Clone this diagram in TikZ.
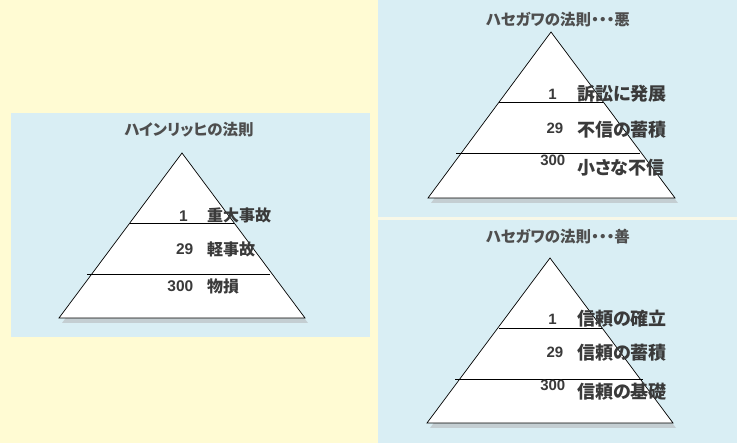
\documentclass[tikz,border=0pt]{standalone}
\usepackage{fontspec}
\usetikzlibrary{calc}
\newfontfamily\jp[RawFeature=+palt]{Noto Sans CJK JP}
\newfontfamily\numfont{Liberation Sans}
\definecolor{bgyellow}{HTML}{FFFBD3}
\definecolor{panelblue}{HTML}{D9EEF4}
\definecolor{divider}{HTML}{F8F8E8}
\definecolor{shadowgray}{HTML}{C4CED2}
\definecolor{txtgray}{HTML}{3A3A3A}
\begin{document}
\begin{tikzpicture}[x=1pt,y=-1pt,
  pyr/.style={fill=white,draw=black,line width=0.7pt,line join=miter},
  shade/.style={fill=shadowgray,draw=none},
  layer/.style={draw=black,line width=0.7pt},
  ttl/.style={font=\jp\bfseries\fontsize{15.5}{18}\selectfont,text=txtgray!90,inner sep=0pt},
  numS/.style={font=\numfont\bfseries\fontsize{15.5}{17}\selectfont,text=txtgray,inner sep=0pt,anchor=base east},
  numL/.style={font=\numfont\bfseries\fontsize{15}{16}\selectfont,text=txtgray,inner sep=0pt,anchor=base east},
  lblS/.style={font=\jp\bfseries\fontsize{16}{18}\selectfont,text=txtgray,inner sep=0pt,anchor=base west},
  lblL/.style={font=\jp\bfseries\fontsize{18}{20}\selectfont,text=txtgray,inner sep=0pt,anchor=base west}
]
\useasboundingbox (0,0) rectangle (737,443);
\fill[bgyellow] (0,0) rectangle (737,443);
\fill[panelblue] (11,113) rectangle (370,337);
\fill[panelblue] (378,0) rectangle (737,217);
\fill[divider] (378,217) rectangle (737,220);
\fill[panelblue] (378,220) rectangle (737,443);

% ---------- left: Heinrich ----------
\node[ttl] (tA) at (189,130) {ハインリッヒの法則};
\coordinate (a1) at (182,153);
\coordinate (a2) at (59,318);
\coordinate (a3) at (305,318);
\fill[shade] ($(a1)+(3,5)$) -- ($(a2)+(3,5)$) -- ($(a3)+(3,5)$) -- cycle;
\draw[pyr] (a1) -- (a2) -- (a3) -- cycle;
\coordinate (a4) at (130,223); \coordinate (a5) at (234,223);
\coordinate (a6) at (87,274);  \coordinate (a7) at (270,274);
\draw[layer] (a4) -- (a5);
\draw[layer] (a6) -- (a7);
\node[numS] (nA1) at (188,222) {1};
\node[lblS] (lA1) at (207,222) {重大事故};
\node[numS] (nA2) at (193.5,255) {29};
\node[lblS] (lA2) at (207,256) {軽事故};
\node[numS] (nA3) at (193.5,292) {300};
\node[lblS] (lA3) at (207,293) {物損};

% ---------- top right: Hasegawa (bad) ----------
\node[ttl] (tB) at (558,20) {ハセガワの法則・・・悪};
\coordinate (b1) at (551,32);
\coordinate (b2) at (428,198);
\coordinate (b3) at (675,198);
\fill[shade] ($(b1)+(3,5)$) -- ($(b2)+(3,5)$) -- ($(b3)+(3,5)$) -- cycle;
\draw[pyr] (b1) -- (b2) -- (b3) -- cycle;
\coordinate (b4) at (499,102); \coordinate (b5) at (603,102);
\coordinate (b6) at (456,153); \coordinate (b7) at (640,153);
\draw[layer] (b4) -- (b5);
\draw[layer] (b6) -- (b7);
\node[numL] (nB1) at (557,100) {1};
\node[lblL] (lB1) at (577,101) {訴訟に発展};
\node[numL] (nB2) at (563.5,134) {29};
\node[lblL] (lB2) at (577,137) {不信の蓄積};
\node[numL] (nB3) at (565.5,166) {300};
\node[lblL] (lB3) at (577,175) {小さな不信};

% ---------- bottom right: Hasegawa (good) ----------
\node[ttl] (tC) at (558,237) {ハセガワの法則・・・善};
\coordinate (c1) at (550,258);
\coordinate (c2) at (427,423);
\coordinate (c3) at (673,423);
\fill[shade] ($(c1)+(3,5)$) -- ($(c2)+(3,5)$) -- ($(c3)+(3,5)$) -- cycle;
\draw[pyr] (c1) -- (c2) -- (c3) -- cycle;
\coordinate (c4) at (499,328); \coordinate (c5) at (602,328);
\coordinate (c6) at (455,379); \coordinate (c7) at (643,379);
\draw[layer] (c4) -- (c5);
\draw[layer] (c6) -- (c7);
\node[numL] (nC1) at (557,325) {1};
\node[lblL] (lC1) at (577,326) {信頼の確立};
\node[numL] (nC2) at (563.5,358) {29};
\node[lblL] (lC2) at (577,360) {信頼の蓄積};
\node[numL] (nC3) at (565.5,391) {300};
\node[lblL] (lC3) at (577,399) {信頼の基礎};
\end{tikzpicture}
\end{document}
